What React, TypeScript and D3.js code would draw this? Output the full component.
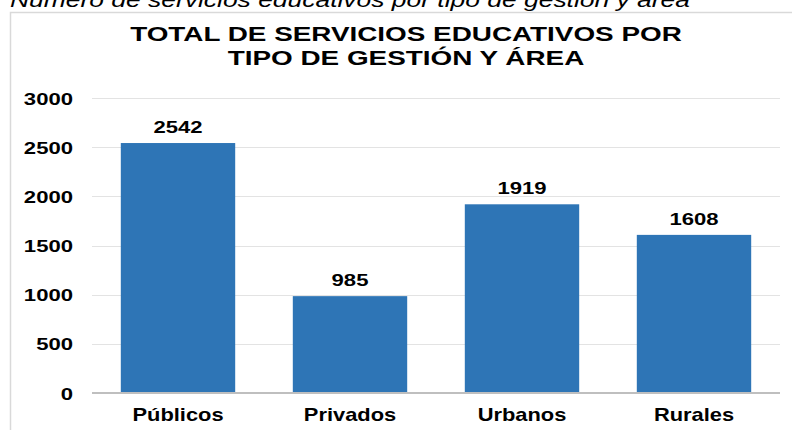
import React, { useEffect, useRef } from "react";
import { select, scaleBand, scaleLinear, axisLeft, axisBottom } from "d3";

const categories = ["Públicos", "Privados", "Urbanos", "Rurales"];
const values = [2542, 985, 1919, 1608];
const yTicks = [0, 500, 1000, 1500, 2000, 2500, 3000];
const titleLines = ["TOTAL DE SERVICIOS EDUCATIVOS POR", "TIPO DE GESTIÓN Y ÁREA"];
const caption = "Número de servicios educativos por tipo de gestión y área";

const W = 792;
const H = 430;
const STRETCH = 1.3; // the source text is drawn wide

const App = () => {
  const svgRef = useRef(null);

  useEffect(() => {
    const svg = select(svgRef.current);
    svg.selectAll("*").remove();

    const font = "'Liberation Sans', Arial, sans-serif";

    // caption above the chart box (cut off at the top in the source)
    svg.append("text")
    .attr("x", 10)
    .attr("y", 7)
    .attr("font-family", font)
    .attr("font-style", "italic")
    .attr("font-size", 20)
    .attr("textLength", 680)
    .attr("lengthAdjust", "spacingAndGlyphs")
    .attr("fill", "#000")
    .text(caption);

    // chart box
    svg.append("rect")
    .attr("x", 10.5)
    .attr("y", 12.5)
    .attr("width", 800)
    .attr("height", 440)
    .attr("fill", "#fff")
    .attr("stroke", "#d9d9d9")
    .attr("stroke-width", 1.5);

    // title
    const stretched = (sel, x, y, sx = STRETCH) =>
      sel.attr("transform", `translate(${ x },${ y }) scale(${ sx },1)`);

    titleLines.forEach((line, i) => {
      svg.append("text")
      .call(stretched, 406, 41 + i * 24, 1.36)
      .attr("text-anchor", "middle")
      .attr("font-family", font)
      .attr("font-weight", "bold")
      .attr("font-size", 20.5)
      .attr("fill", "#000")
      .text(line);
    });

    const xScale = scaleBand()
    .domain(categories)
    .range([92, 780])
    .paddingInner(0.335)
    .paddingOuter(0.1675);

    const yScale = scaleLinear()
    .domain([0, 3000])
    .range([393, 98]);

    // gridlines
    svg.append("g")
    .selectAll("line")
    .data(yTicks.filter(t => t > 0))
    .join("line")
    .attr("x1", 92)
    .attr("x2", 780)
    .attr("y1", d => Math.round(yScale(d)) + 0.5)
    .attr("y2", d => Math.round(yScale(d)) + 0.5)
    .attr("stroke", "#e3e3e3")
    .attr("stroke-width", 1);

    // bars
    svg.append("g")
    .selectAll("rect")
    .data(values)
    .join("rect")
    .attr("x", (d, i) => xScale(categories[i]))
    .attr("width", xScale.bandwidth())
    .attr("y", d => yScale(d))
    .attr("height", d => yScale(0) - yScale(d))
    .attr("fill", "#2e75b6");

    // value labels
    svg.append("g")
    .selectAll("text")
    .data(values)
    .join("text")
    .each(function (d, i) {
      select(this).call(stretched, xScale(categories[i]) + xScale.bandwidth() / 2, yScale(d) - 10);
    })
    .attr("text-anchor", "middle")
    .attr("font-family", font)
    .attr("font-weight", "bold")
    .attr("font-size", 17)
    .attr("fill", "#000")
    .text(d => d);

    // y axis
    const yAxis = axisLeft(yScale)
    .tickValues(yTicks)
    .tickFormat(d => String(d))
    .tickSize(0)
    .tickPadding(0);
    const gy = svg.append("g").attr("transform", "translate(73,0)").call(yAxis);
    gy.select(".domain").remove();
    gy.selectAll(".tick text")
    .attr("x", 0)
    .attr("dy", null)
    .attr("y", 0)
    .attr("transform", `translate(0,6) scale(${ STRETCH },1)`)
    .attr("font-family", font)
    .attr("font-weight", "bold")
    .attr("font-size", 17)
    .attr("fill", "#000");

    // x axis
    const xAxis = axisBottom(xScale).tickSize(0).tickPadding(0);
    const gx = svg.append("g").attr("transform", "translate(0,393)").call(xAxis);
    gx.select(".domain")
    .attr("stroke", "#bfbfbf")
    .attr("stroke-width", 2)
    .attr("d", "M92,0H780");
    gx.selectAll(".tick text")
    .attr("y", 0)
    .attr("dy", null)
    .attr("transform", `translate(0,28) scale(${ STRETCH - 0.05 },1)`)
    .attr("font-family", font)
    .attr("font-weight", "bold")
    .attr("font-size", 17.5)
    .attr("fill", "#000");
  }, []);

  return (
    <div style={ {position: "fixed", left: 0, top: 0, width: W, height: H, background: "#fff"} }>
      <svg ref={ svgRef } width={ W } height={ H } style={ {display: "block"} }/>
    </div>
  );
};

export default App;
